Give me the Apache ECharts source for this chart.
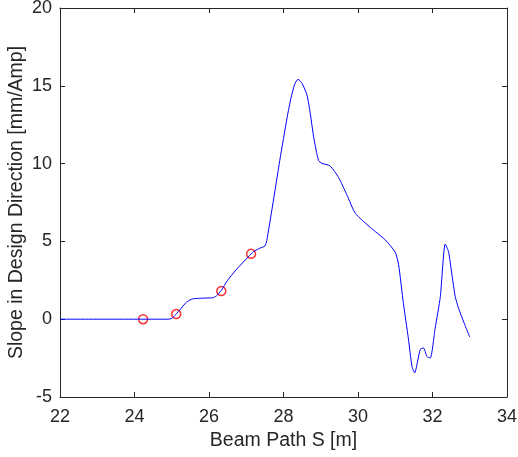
<!DOCTYPE html>
<html>
<head>
<meta charset="utf-8">
<script src="https://cdn.jsdelivr.net/npm/echarts@6/dist/echarts.min.js"></script>
<style>html,body{margin:0;padding:0;background:#fff}#c{width:518px;height:457px}</style>
</head>
<body>
<div id="c"></div>
<script>
const beamS = [22, 24.9, 25.0, 25.1, 25.25, 25.4, 25.55, 25.8, 26.1, 26.2, 26.33, 26.5, 26.7, 27.05, 27.2, 27.4, 27.5, 27.55, 27.7, 27.9, 28.1, 28.2, 28.3, 28.39, 28.5, 28.63, 28.72, 28.81, 28.94, 29.03, 29.25, 29.48, 29.7, 29.93, 30.33, 30.73, 31.0, 31.09, 31.22, 31.35, 31.45, 31.52, 31.67, 31.76, 31.85, 31.94, 32.07, 32.21, 32.34, 32.43, 32.52, 32.61, 32.7, 32.85, 33.0];
const slope = [0, 0, 0.05, 0.28, 0.7, 1.1, 1.3, 1.35, 1.38, 1.5, 1.85, 2.5, 3.1, 4.0, 4.35, 4.6, 4.7, 5.05, 7.2, 10.2, 13.0, 14.2, 15.1, 15.42, 15.15, 14.4, 13.2, 11.7, 10.2, 10.02, 9.85, 9.1, 8.0, 6.8, 5.9, 5.1, 4.3, 3.5, 1.0, -1.2, -3.05, -3.45, -1.95, -1.85, -2.4, -2.5, -0.6, 1.45, 4.83, 4.34, 2.9, 1.45, 0.7, -0.25, -1.15];
const markerS = [24.23, 25.12, 26.33, 27.13];
const markerSlope = [0, 0.33, 1.81, 4.2];
const xTicks = [22, 24, 26, 28, 30, 32, 34];
const yTicks = [-5, 0, 5, 10, 15, 20];

const axisColor = '#262626';
const font = 'Liberation Sans, Arial, Helvetica, sans-serif';
const chart = echarts.init(document.getElementById('c'));
const baseX = {
  type: 'value', min: xTicks[0], max: xTicks[xTicks.length - 1], interval: 2,
  axisLine: {show: true, onZero: false, lineStyle: {color: axisColor, width: 1}},
  axisTick: {show: true, inside: true, length: 5, lineStyle: {color: axisColor}},
  splitLine: {show: false}
};
const baseY = {
  type: 'value', min: yTicks[0], max: yTicks[yTicks.length - 1], interval: 5,
  axisLine: {show: true, onZero: false, lineStyle: {color: axisColor, width: 1}},
  axisTick: {show: true, inside: true, length: 5, lineStyle: {color: axisColor}},
  splitLine: {show: false}
};
chart.setOption({
  animation: false,
  backgroundColor: '#fff',
  grid: {left: 60, right: 11, top: 8, bottom: 60, containLabel: false, outerBoundsMode: 'none'},
  xAxis: [
    Object.assign({}, baseX, {
      position: 'bottom',
      name: 'Beam Path S [m]', nameLocation: 'middle', nameGap: 34, nameMoveOverlap: false,
      nameTextStyle: {fontFamily: font, fontSize: 19.5, color: axisColor},
      axisLabel: {fontFamily: font, fontSize: 18, color: axisColor, margin: 11}
    }),
    Object.assign({}, baseX, {position: 'top', axisLabel: {show: false}})
  ],
  yAxis: [
    Object.assign({}, baseY, {
      position: 'left',
      name: 'Slope in Design Direction [mm/Amp]', nameLocation: 'middle', nameGap: 33, nameMoveOverlap: false,
      nameTextStyle: {fontFamily: font, fontSize: 19.5, color: axisColor},
      axisLabel: {fontFamily: font, fontSize: 18, color: axisColor, margin: 8}
    }),
    Object.assign({}, baseY, {position: 'right', axisLabel: {show: false}})
  ],
  series: [
    {
      type: 'line', xAxisIndex: 0, yAxisIndex: 0,
      data: beamS.map((s, i) => [s, slope[i]]),
      showSymbol: false, symbol: 'none', smooth: 0.2,
      lineStyle: {color: '#0000ff', width: 1}
    },
    {
      type: 'scatter', xAxisIndex: 0, yAxisIndex: 0,
      data: markerS.map((s, i) => [s, markerSlope[i]]),
      symbol: 'circle', symbolSize: 9,
      itemStyle: {color: 'rgba(0,0,0,0)', borderColor: '#ff0000', borderWidth: 1.5}
    }
  ]
});
</script>
</body>
</html>
